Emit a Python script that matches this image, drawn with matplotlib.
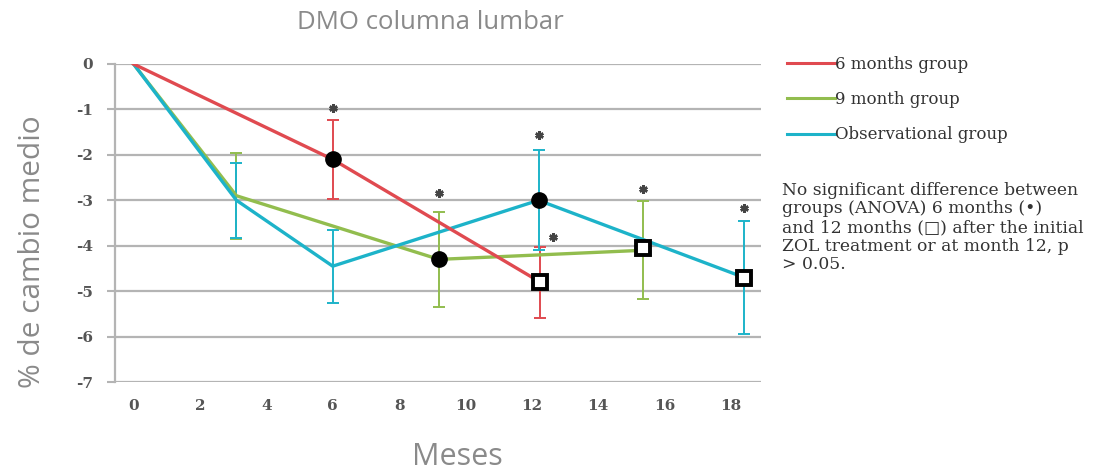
import matplotlib
matplotlib.use("Agg")
import matplotlib.pyplot as plt
from matplotlib.lines import Line2D

# Data
months_6 = [0, 6.0, 12.25]
mean_6 = [0, -2.1, -4.8]
err_6 = [0, 0.87, 0.78]

months_9 = [0, 3.1, 9.2, 15.35]
mean_9 = [0, -2.9, -4.3, -4.1]
err_9 = [0, 0.95, 1.05, 1.08]

months_obs = [0, 3.1, 6.0, 12.2, 18.4]
mean_obs = [0, -3.0, -4.45, -3.0, -4.7]
err_obs = [0, 0.82, 0.8, 1.1, 1.25]

circle_x = [6.0, 9.2, 12.2]
circle_y = [-2.1, -4.3, -3.0]
square_x = [12.25, 15.35, 18.4]
square_y = [-4.8, -4.05, -4.7]
star_x = [6.0, 9.2, 12.2, 12.65, 15.35, 18.4]
star_y = [-0.97, -2.85, -1.57, -3.8, -2.76, -3.18]

x_ticks = [0, 2, 4, 6, 8, 10, 12, 14, 16, 18]
y_ticks = [0, -1, -2, -3, -4, -5, -6, -7]

labels = ["6 months group", "9 month group", "Observational group"]
RED, GREEN, CYAN = "#e04a50", "#92bd4e", "#1db3c9"
GRID = "#b4b4b4"
GREYTXT = "#8a8a8a"

fig = plt.figure(figsize=(10.98, 4.74), dpi=100)
ax = fig.add_axes([0.105, 0.194, 0.588, 0.671])

ax.set_xlim(-0.55, 18.9)
ax.set_ylim(-7, 0)
for y in y_ticks:
    ax.axhline(y, color=GRID, lw=1.6, zorder=0.5)

# error bars
ax.errorbar(months_9[1:], mean_9[1:], yerr=err_9[1:], fmt="none", ecolor=GREEN,
            elinewidth=1.4, capsize=4, capthick=1.4, zorder=1)
ax.errorbar(months_obs[1:], mean_obs[1:], yerr=err_obs[1:], fmt="none", ecolor=CYAN,
            elinewidth=1.4, capsize=4, capthick=1.4, zorder=1.5)
ax.errorbar(months_6[1:], mean_6[1:], yerr=err_6[1:], fmt="none", ecolor=RED,
            elinewidth=1.4, capsize=4, capthick=1.4, zorder=1.2)

ax.plot(months_9, mean_9, color=GREEN, lw=2.4, zorder=2)
ax.plot(months_obs, mean_obs, color=CYAN, lw=2.4, zorder=3)
ax.plot(months_6, mean_6, color=RED, lw=2.4, zorder=4)

ax.plot(circle_x, circle_y, "o", color="black", ms=11, zorder=6, ls="none")
ax.plot(square_x, square_y, "s", mfc="white", mec="black", mew=2.8, ms=9.5, zorder=6, ls="none")
ax.plot(star_x, star_y, marker=(6, 2, 0), color="#444444", ms=6, mew=1.8, ls="none", zorder=6)

ax.set_xticks(x_ticks)
ax.set_yticks(y_ticks)
ax.set_xticklabels([str(t) for t in x_ticks])
ax.set_yticklabels([str(t) for t in y_ticks])
for lab in ax.get_xticklabels() + ax.get_yticklabels():
    lab.set_fontfamily("DejaVu Serif")
    lab.set_fontsize(11)
    lab.set_fontweight("bold")
    lab.set_color("#555555")
ax.tick_params(axis="x", length=0, pad=12)
ax.tick_params(axis="y", length=6, width=1.5, color=GRID, direction="out", pad=10)
for s in ["top", "right", "bottom"]:
    ax.spines[s].set_visible(False)
ax.spines["left"].set_color(GRID)
ax.spines["left"].set_linewidth(1.6)

fig.text(0.392, 0.953, "DMO columna lumbar", ha="center", va="center",
         fontsize=18.5, color=GREYTXT, family="Open Sans")
fig.text(0.030, 0.47, "% de cambio medio", ha="center", va="center", rotation=90,
         fontsize=21.5, color=GREYTXT, family="Open Sans")
fig.text(0.417, 0.035, "Meses", ha="center", va="center",
         fontsize=22, color=GREYTXT, family="Open Sans")

handles = [Line2D([0], [0], color=c, lw=2.2) for c in (RED, GREEN, CYAN)]
leg = fig.legend(handles, labels, loc="upper left", bbox_to_anchor=(0.706, 0.907),
                 frameon=False, handlelength=2.9, handletextpad=0.0,
                 labelspacing=1.1, borderpad=0.2,
                 prop={"family": "DejaVu Serif", "size": 12})
for t in leg.get_texts():
    t.set_color("#333333")

note = ("No significant difference between\n"
        "groups (ANOVA) 6 months (\u2022)\n"
        "and 12 months (\u25a1) after the initial\n"
        "ZOL treatment or at month 12, p\n"
        "> 0.05.")
fig.text(0.712, 0.617, note, ha="left", va="top", fontsize=12.3,
         family="DejaVu Serif", color="#333333", linespacing=1.13)

fig.savefig("out.png", dpi=100)
